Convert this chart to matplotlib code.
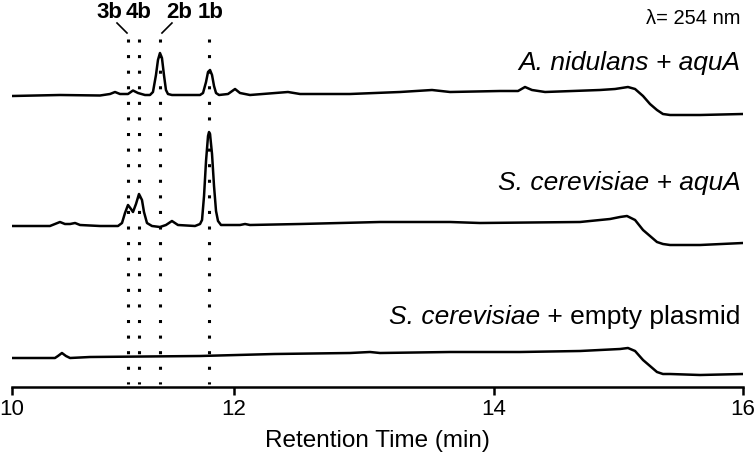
import numpy as np
import matplotlib
matplotlib.use('Agg')
import matplotlib.pyplot as plt

plt.rcParams['font.family'] = ['Liberation Sans', 'DejaVu Sans']

# retention times (min) and detector signal (arbitrary units, relative to each trace's start)
t_nid = [10.00, 10.432, 10.793, 10.883, 10.928, 10.973, 11.045, 11.090, 11.135, 11.198, 11.243,
         11.270, 11.297, 11.315, 11.333, 11.351, 11.369, 11.387, 11.405, 11.441, 11.694, 11.721,
         11.748, 11.766, 11.784, 11.802, 11.820, 11.838, 11.865, 11.946, 12.008, 12.046, 12.123,
         12.415, 12.508, 12.892, 13.277, 13.523, 13.662, 14.048, 14.193, 14.249, 14.305, 14.410,
         14.851, 14.972, 15.076, 15.133, 15.197, 15.253, 15.309, 15.357, 15.414, 15.655, 16.00]
s_nid = [0, 1, 0.5, 2, 4, 2, 2, 5.5, 3, 1, 1,
         4, 21, 36, 43, 38, 21, 6, 2, 1, 1, 3,
         14, 24, 26, 21, 10, 3, 1, 2, 7, 3, 1,
         4, 2, 2, 4, 6, 4, 5, 5, 9, 6, 4,
         6, 7, 9, 7, 0, -8, -14, -18, -19, -19, -18]

t_cer = [10.00, 10.342, 10.387, 10.432, 10.477, 10.523, 10.568, 10.613, 10.793, 10.955, 10.991,
         11.018, 11.045, 11.072, 11.090, 11.117, 11.144, 11.171, 11.189, 11.216, 11.261, 11.333,
         11.387, 11.441, 11.495, 11.649, 11.694, 11.712, 11.730, 11.748, 11.766, 11.775, 11.784,
         11.802, 11.820, 11.838, 11.856, 11.883, 12.046, 12.085, 12.123, 12.508, 13.123, 13.662,
         13.892, 14.691, 14.932, 15.012, 15.068, 15.133, 15.197, 15.253, 15.309, 15.357, 15.414,
         15.655, 16.00]
s_cer = [0, 0, 2, 4, 2, 2, 3, 1, 0, 0, 3,
         13, 21, 17, 14, 22, 32, 26, 14, 3, 0, -1,
         1, 5, 1, 0, 2, 6, 30, 65, 90, 94, 92,
         72, 40, 15, 5, 1, 1, 2, 1, 2, 4, 4,
         3, 4, 7, 9, 10, 6, -4, -10, -16, -18, -19,
         -19, -17]

t_emp = [10.00, 10.387, 10.414, 10.450, 10.486, 10.523, 10.703, 11.694, 12.311, 12.892, 13.046,
         13.123, 13.662, 14.209, 14.691, 15.012, 15.076, 15.133, 15.197, 15.253, 15.309, 15.357,
         15.414, 15.655, 16.00]
s_emp = [0, 0, 2, 5, 2, 0, 1, 2, 4, 5, 6,
         5, 6, 6, 7, 9, 10, 7, -2, -8, -14, -16,
         -16, -17, -16]

offsets = [290.7, 160.7, 28.7]

peak_names = ['3b', '4b', '2b', '1b']
peak_times = [11.045, 11.144, 11.333, 11.775]
name_x = [10.875, 11.144, 11.504, 11.793]

xticks = [10, 12, 14, 16]
# the original axis has uneven tick spacing; follow it with a piecewise scale
tick_pos = [0, 222, 482, 731]


def fwd(x):
    x = np.asarray(x, dtype=float)
    y = np.interp(x, xticks, tick_pos)
    y = np.where(x < xticks[0], (x - 10) * 111, y)
    y = np.where(x > xticks[-1], 731 + (x - 16) * 124.5, y)
    return y


def inv(y):
    y = np.asarray(y, dtype=float)
    x = np.interp(y, tick_pos, xticks)
    x = np.where(y < 0, 10 + y / 111, x)
    x = np.where(y > 731, 16 + (y - 731) / 124.5, x)
    return x


fig = plt.figure(figsize=(7.54, 4.57), dpi=100)
ax = fig.add_axes([12 / 754, (457 - 386.7) / 457, 731 / 754, 386.7 / 457])
ax.set_xscale('function', functions=(fwd, inv))

lw = 1.8
for t, s, off in zip([t_nid, t_cer, t_emp], [s_nid, s_cer, s_emp], offsets):
    ax.plot(t, np.array(s) + off, color='black', lw=lw, solid_joinstyle='round', zorder=3)

# dotted guides through the peaks
for pt in peak_times:
    ax.plot([pt, pt], [347.7, 3], color='black', lw=2.2, linestyle=(0, (1, 4.1)),
            dash_capstyle='butt', zorder=2)

for nm, nx in zip(peak_names, name_x):
    ax.text(nx, 374.5, nm, ha='center', va='center', fontsize=16, fontweight='bold')
ax.plot([10.946, 11.036], [363.7, 353.7], color='black', lw=1.2)
ax.plot([11.441, 11.351], [363.7, 353.7], color='black', lw=1.2)

fs = 19
ax.text(15.98, 368.5, 'λ= 254 nm', ha='right', va='center', fontsize=14.5)
ax.text(15.98, 323.5, 'A. nidulans + aquA', ha='right', va='center', fontsize=fs, style='italic')
ax.text(15.98, 203.5, 'S. cerevisiae + aquA', ha='right', va='center', fontsize=fs, style='italic')
t_plain = ax.text(15.98, 69.5, ' + empty plasmid', ha='right', va='center', fontsize=fs)
ax.annotate('S. cerevisiae', xy=(0, 0.5), xycoords=t_plain, ha='right', va='center',
            fontsize=fs, style='italic')

ax.set_xlim(10, 16)
ax.set_ylim(0, 386.7)
ax.set_xticks(xticks)
ax.set_xticklabels([str(x) for x in xticks])
ax.set_yticks([])
for side in ['top', 'right', 'left']:
    ax.spines[side].set_visible(False)
ax.spines['bottom'].set_linewidth(lw)
ax.tick_params(axis='x', length=6, width=lw, labelsize=16, pad=3)
ax.set_xlabel('Retention Time (min)', fontsize=17.5, labelpad=7)
ax.patch.set_alpha(0)

fig.savefig('out.png', dpi=100)
